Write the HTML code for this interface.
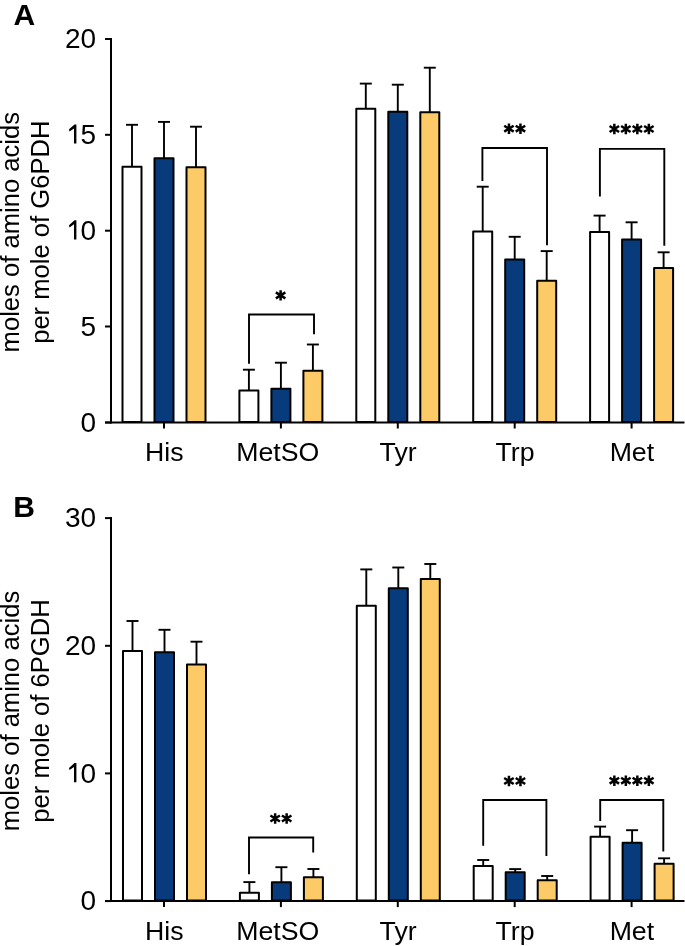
<!DOCTYPE html>
<html><head><meta charset="utf-8"><style>
html,body{margin:0;padding:0;background:#fff;}
#w{will-change:transform;}
svg{display:block;}
text{font-family:"Liberation Sans",sans-serif;fill:#000;}
</style></head><body>
<div id="w"><svg width="685" height="946" viewBox="0 0 685 946">

<text x="13.5" y="24.8" font-size="30" font-weight="bold">A</text>
<text transform="translate(19.4,232.2) rotate(-90)" text-anchor="middle" font-size="25.6">moles of amino acids</text>
<text transform="translate(49.0,232.2) rotate(-90)" text-anchor="middle" font-size="25.6">per mole of G6PDH</text>
<text x="96.1" y="48.2" text-anchor="end" font-size="28">20</text>
<line x1="105" y1="39.0" x2="111" y2="39.0" stroke="#000" stroke-width="2.0"/>
<path d="M76.40,124.40 L76.40,143.60 L74.00,143.60 L74.00,128.40 L69.50,131.50 L69.00,129.30 L74.50,124.40Z" fill="#000"/>
<text x="96.1" y="144.0" text-anchor="end" font-size="28">5</text>
<line x1="105" y1="134.8" x2="111" y2="134.8" stroke="#000" stroke-width="2.0"/>
<path d="M76.40,220.30 L76.40,239.50 L74.00,239.50 L74.00,224.30 L69.50,227.40 L69.00,225.20 L74.50,220.30Z" fill="#000"/>
<text x="96.1" y="239.9" text-anchor="end" font-size="28">0</text>
<line x1="105" y1="230.7" x2="111" y2="230.7" stroke="#000" stroke-width="2.0"/>
<text x="96.1" y="335.7" text-anchor="end" font-size="28">5</text>
<line x1="105" y1="326.5" x2="111" y2="326.5" stroke="#000" stroke-width="2.0"/>
<text x="96.1" y="431.7" text-anchor="end" font-size="28">0</text>
<line x1="105" y1="422.5" x2="111" y2="422.5" stroke="#000" stroke-width="2.0"/>
<line x1="132.0" y1="167.3" x2="132.0" y2="124.8" stroke="#000" stroke-width="1.9"/>
<line x1="126.0" y1="124.8" x2="138.0" y2="124.8" stroke="#000" stroke-width="1.9"/>
<rect x="122.5" y="166.8" width="19" height="255.10" fill="#ffffff" stroke="#000" stroke-width="2.0" stroke-linejoin="round"/>
<line x1="164.0" y1="158.7" x2="164.0" y2="121.9" stroke="#000" stroke-width="1.9"/>
<line x1="158.0" y1="121.9" x2="170.0" y2="121.9" stroke="#000" stroke-width="1.9"/>
<rect x="154.5" y="158.2" width="19" height="263.70" fill="#083b7b" stroke="#000" stroke-width="2.0" stroke-linejoin="round"/>
<line x1="196.0" y1="167.7" x2="196.0" y2="126.7" stroke="#000" stroke-width="1.9"/>
<line x1="190.0" y1="126.7" x2="202.0" y2="126.7" stroke="#000" stroke-width="1.9"/>
<rect x="186.5" y="167.2" width="19" height="254.70" fill="#fccb68" stroke="#000" stroke-width="2.0" stroke-linejoin="round"/>
<line x1="164.0" y1="422.5" x2="164.0" y2="428.5" stroke="#000" stroke-width="2.0"/>
<text x="164.3" y="461.4" text-anchor="middle" font-size="26.7">His</text>
<line x1="248.9" y1="391.0" x2="248.9" y2="369.7" stroke="#000" stroke-width="1.9"/>
<line x1="242.9" y1="369.7" x2="254.9" y2="369.7" stroke="#000" stroke-width="1.9"/>
<rect x="239.4" y="390.5" width="19" height="31.40" fill="#ffffff" stroke="#000" stroke-width="2.0" stroke-linejoin="round"/>
<line x1="280.9" y1="389.3" x2="280.9" y2="362.7" stroke="#000" stroke-width="1.9"/>
<line x1="274.9" y1="362.7" x2="286.9" y2="362.7" stroke="#000" stroke-width="1.9"/>
<rect x="271.4" y="388.8" width="19" height="33.10" fill="#083b7b" stroke="#000" stroke-width="2.0" stroke-linejoin="round"/>
<line x1="312.9" y1="371.2" x2="312.9" y2="344.5" stroke="#000" stroke-width="1.9"/>
<line x1="306.9" y1="344.5" x2="318.9" y2="344.5" stroke="#000" stroke-width="1.9"/>
<rect x="303.4" y="370.7" width="19" height="51.20" fill="#fccb68" stroke="#000" stroke-width="2.0" stroke-linejoin="round"/>
<line x1="280.9" y1="422.5" x2="280.9" y2="428.5" stroke="#000" stroke-width="2.0"/>
<text x="277.8" y="461.4" text-anchor="middle" font-size="26.7">MetSO</text>
<line x1="365.8" y1="109.3" x2="365.8" y2="83.6" stroke="#000" stroke-width="1.9"/>
<line x1="359.8" y1="83.6" x2="371.8" y2="83.6" stroke="#000" stroke-width="1.9"/>
<rect x="356.3" y="108.8" width="19" height="313.10" fill="#ffffff" stroke="#000" stroke-width="2.0" stroke-linejoin="round"/>
<line x1="397.8" y1="112.3" x2="397.8" y2="84.7" stroke="#000" stroke-width="1.9"/>
<line x1="391.8" y1="84.7" x2="403.8" y2="84.7" stroke="#000" stroke-width="1.9"/>
<rect x="388.3" y="111.8" width="19" height="310.10" fill="#083b7b" stroke="#000" stroke-width="2.0" stroke-linejoin="round"/>
<line x1="429.8" y1="112.8" x2="429.8" y2="67.7" stroke="#000" stroke-width="1.9"/>
<line x1="423.8" y1="67.7" x2="435.8" y2="67.7" stroke="#000" stroke-width="1.9"/>
<rect x="420.3" y="112.3" width="19" height="309.60" fill="#fccb68" stroke="#000" stroke-width="2.0" stroke-linejoin="round"/>
<line x1="397.8" y1="422.5" x2="397.8" y2="428.5" stroke="#000" stroke-width="2.0"/>
<text x="398.1" y="461.4" text-anchor="middle" font-size="26.7">Tyr</text>
<line x1="482.7" y1="231.9" x2="482.7" y2="186.7" stroke="#000" stroke-width="1.9"/>
<line x1="476.7" y1="186.7" x2="488.7" y2="186.7" stroke="#000" stroke-width="1.9"/>
<rect x="473.2" y="231.4" width="19" height="190.50" fill="#ffffff" stroke="#000" stroke-width="2.0" stroke-linejoin="round"/>
<line x1="514.7" y1="260.0" x2="514.7" y2="236.8" stroke="#000" stroke-width="1.9"/>
<line x1="508.7" y1="236.8" x2="520.7" y2="236.8" stroke="#000" stroke-width="1.9"/>
<rect x="505.2" y="259.5" width="19" height="162.40" fill="#083b7b" stroke="#000" stroke-width="2.0" stroke-linejoin="round"/>
<line x1="546.7" y1="281.3" x2="546.7" y2="251.1" stroke="#000" stroke-width="1.9"/>
<line x1="540.7" y1="251.1" x2="552.7" y2="251.1" stroke="#000" stroke-width="1.9"/>
<rect x="537.2" y="280.8" width="19" height="141.10" fill="#fccb68" stroke="#000" stroke-width="2.0" stroke-linejoin="round"/>
<line x1="514.7" y1="422.5" x2="514.7" y2="428.5" stroke="#000" stroke-width="2.0"/>
<text x="515.0" y="461.4" text-anchor="middle" font-size="26.7">Trp</text>
<line x1="599.6" y1="232.4" x2="599.6" y2="215.6" stroke="#000" stroke-width="1.9"/>
<line x1="593.6" y1="215.6" x2="605.6" y2="215.6" stroke="#000" stroke-width="1.9"/>
<rect x="590.1" y="231.9" width="19" height="190.00" fill="#ffffff" stroke="#000" stroke-width="2.0" stroke-linejoin="round"/>
<line x1="631.6" y1="240.0" x2="631.6" y2="222.3" stroke="#000" stroke-width="1.9"/>
<line x1="625.6" y1="222.3" x2="637.6" y2="222.3" stroke="#000" stroke-width="1.9"/>
<rect x="622.1" y="239.5" width="19" height="182.40" fill="#083b7b" stroke="#000" stroke-width="2.0" stroke-linejoin="round"/>
<line x1="663.6" y1="268.5" x2="663.6" y2="252.3" stroke="#000" stroke-width="1.9"/>
<line x1="657.6" y1="252.3" x2="669.6" y2="252.3" stroke="#000" stroke-width="1.9"/>
<rect x="654.1" y="268.0" width="19" height="153.90" fill="#fccb68" stroke="#000" stroke-width="2.0" stroke-linejoin="round"/>
<line x1="631.6" y1="422.5" x2="631.6" y2="428.5" stroke="#000" stroke-width="2.0"/>
<text x="631.9" y="461.4" text-anchor="middle" font-size="26.7">Met</text>
<line x1="111" y1="38.0" x2="111" y2="423.5" stroke="#000" stroke-width="2.0"/>
<line x1="105" y1="422.5" x2="684.5" y2="422.5" stroke="#000" stroke-width="2.0"/>
<polyline points="249.0,363.7 249.0,314.5 314.0,314.5 314.0,334.3" fill="none" stroke="#000" stroke-width="1.9"/>
<path d="M280.60,290.20V300.60M275.85,292.43L285.35,298.37M275.85,298.37L285.35,292.43" stroke="#000" stroke-width="2.5" fill="none"/>
<polyline points="482.4,181 482.4,148.0 547.0,148.0 547.0,245.2" fill="none" stroke="#000" stroke-width="1.9"/>
<path d="M508.95,123.50V133.90M504.20,125.73L513.70,131.67M504.20,131.67L513.70,125.73" stroke="#000" stroke-width="2.5" fill="none"/>
<path d="M520.45,123.50V133.90M515.70,125.73L525.20,131.67M515.70,131.67L525.20,125.73" stroke="#000" stroke-width="2.5" fill="none"/>
<polyline points="599.9,196.6 599.9,148.9 664.3,148.9 664.3,245.7" fill="none" stroke="#000" stroke-width="1.9"/>
<path d="M614.35,123.80V134.20M609.60,126.03L619.10,131.97M609.60,131.97L619.10,126.03" stroke="#000" stroke-width="2.5" fill="none"/>
<path d="M625.85,123.80V134.20M621.10,126.03L630.60,131.97M621.10,131.97L630.60,126.03" stroke="#000" stroke-width="2.5" fill="none"/>
<path d="M637.35,123.80V134.20M632.60,126.03L642.10,131.97M632.60,131.97L642.10,126.03" stroke="#000" stroke-width="2.5" fill="none"/>
<path d="M648.85,123.80V134.20M644.10,126.03L653.60,131.97M644.10,131.97L653.60,126.03" stroke="#000" stroke-width="2.5" fill="none"/>
<text x="13.2" y="517" font-size="30" font-weight="bold">B</text>
<text transform="translate(19.4,711) rotate(-90)" text-anchor="middle" font-size="25.6">moles of amino acids</text>
<text transform="translate(49.0,711) rotate(-90)" text-anchor="middle" font-size="25.6">per mole of 6PGDH</text>
<text x="96.1" y="527.3" text-anchor="end" font-size="28">30</text>
<line x1="105" y1="518.1" x2="111" y2="518.1" stroke="#000" stroke-width="2.0"/>
<text x="96.1" y="655.0" text-anchor="end" font-size="28">20</text>
<line x1="105" y1="645.8" x2="111" y2="645.8" stroke="#000" stroke-width="2.0"/>
<path d="M76.40,763.00 L76.40,782.20 L74.00,782.20 L74.00,767.00 L69.50,770.10 L69.00,767.90 L74.50,763.00Z" fill="#000"/>
<text x="96.1" y="782.6" text-anchor="end" font-size="28">0</text>
<line x1="105" y1="773.4" x2="111" y2="773.4" stroke="#000" stroke-width="2.0"/>
<text x="96.1" y="910.3" text-anchor="end" font-size="28">0</text>
<line x1="105" y1="901.1" x2="111" y2="901.1" stroke="#000" stroke-width="2.0"/>
<line x1="132.5" y1="651.5" x2="132.5" y2="621.0" stroke="#000" stroke-width="1.9"/>
<line x1="126.5" y1="621.0" x2="138.5" y2="621.0" stroke="#000" stroke-width="1.9"/>
<rect x="123.0" y="651.0" width="19" height="249.50" fill="#ffffff" stroke="#000" stroke-width="2.0" stroke-linejoin="round"/>
<line x1="164.5" y1="652.7" x2="164.5" y2="629.8" stroke="#000" stroke-width="1.9"/>
<line x1="158.5" y1="629.8" x2="170.5" y2="629.8" stroke="#000" stroke-width="1.9"/>
<rect x="155.0" y="652.2" width="19" height="248.30" fill="#083b7b" stroke="#000" stroke-width="2.0" stroke-linejoin="round"/>
<line x1="196.5" y1="664.9" x2="196.5" y2="641.7" stroke="#000" stroke-width="1.9"/>
<line x1="190.5" y1="641.7" x2="202.5" y2="641.7" stroke="#000" stroke-width="1.9"/>
<rect x="187.0" y="664.4" width="19" height="236.10" fill="#fccb68" stroke="#000" stroke-width="2.0" stroke-linejoin="round"/>
<line x1="164.0" y1="901.1" x2="164.0" y2="907.1" stroke="#000" stroke-width="2.0"/>
<text x="164.3" y="940.2" text-anchor="middle" font-size="26.7">His</text>
<line x1="249.4" y1="893.3" x2="249.4" y2="882.1" stroke="#000" stroke-width="1.9"/>
<line x1="243.4" y1="882.1" x2="255.4" y2="882.1" stroke="#000" stroke-width="1.9"/>
<rect x="239.9" y="892.8" width="19" height="7.70" fill="#ffffff" stroke="#000" stroke-width="2.0" stroke-linejoin="round"/>
<line x1="281.4" y1="882.8" x2="281.4" y2="867.2" stroke="#000" stroke-width="1.9"/>
<line x1="275.4" y1="867.2" x2="287.4" y2="867.2" stroke="#000" stroke-width="1.9"/>
<rect x="271.9" y="882.3" width="19" height="18.20" fill="#083b7b" stroke="#000" stroke-width="2.0" stroke-linejoin="round"/>
<line x1="313.4" y1="877.7" x2="313.4" y2="869.0" stroke="#000" stroke-width="1.9"/>
<line x1="307.4" y1="869.0" x2="319.4" y2="869.0" stroke="#000" stroke-width="1.9"/>
<rect x="303.9" y="877.2" width="19" height="23.30" fill="#fccb68" stroke="#000" stroke-width="2.0" stroke-linejoin="round"/>
<line x1="280.9" y1="901.1" x2="280.9" y2="907.1" stroke="#000" stroke-width="2.0"/>
<text x="277.8" y="940.2" text-anchor="middle" font-size="26.7">MetSO</text>
<line x1="366.3" y1="606.2" x2="366.3" y2="569.4" stroke="#000" stroke-width="1.9"/>
<line x1="360.3" y1="569.4" x2="372.3" y2="569.4" stroke="#000" stroke-width="1.9"/>
<rect x="356.8" y="605.7" width="19" height="294.80" fill="#ffffff" stroke="#000" stroke-width="2.0" stroke-linejoin="round"/>
<line x1="398.3" y1="588.7" x2="398.3" y2="567.5" stroke="#000" stroke-width="1.9"/>
<line x1="392.3" y1="567.5" x2="404.3" y2="567.5" stroke="#000" stroke-width="1.9"/>
<rect x="388.8" y="588.2" width="19" height="312.30" fill="#083b7b" stroke="#000" stroke-width="2.0" stroke-linejoin="round"/>
<line x1="430.3" y1="579.6" x2="430.3" y2="564.0" stroke="#000" stroke-width="1.9"/>
<line x1="424.3" y1="564.0" x2="436.3" y2="564.0" stroke="#000" stroke-width="1.9"/>
<rect x="420.8" y="579.1" width="19" height="321.40" fill="#fccb68" stroke="#000" stroke-width="2.0" stroke-linejoin="round"/>
<line x1="397.8" y1="901.1" x2="397.8" y2="907.1" stroke="#000" stroke-width="2.0"/>
<text x="398.1" y="940.2" text-anchor="middle" font-size="26.7">Tyr</text>
<line x1="483.2" y1="866.5" x2="483.2" y2="860.0" stroke="#000" stroke-width="1.9"/>
<line x1="477.2" y1="860.0" x2="489.2" y2="860.0" stroke="#000" stroke-width="1.9"/>
<rect x="473.7" y="866.0" width="19" height="34.50" fill="#ffffff" stroke="#000" stroke-width="2.0" stroke-linejoin="round"/>
<line x1="515.2" y1="872.8" x2="515.2" y2="869.1" stroke="#000" stroke-width="1.9"/>
<line x1="509.2" y1="869.1" x2="521.2" y2="869.1" stroke="#000" stroke-width="1.9"/>
<rect x="505.7" y="872.3" width="19" height="28.20" fill="#083b7b" stroke="#000" stroke-width="2.0" stroke-linejoin="round"/>
<line x1="547.2" y1="880.8" x2="547.2" y2="876.0" stroke="#000" stroke-width="1.9"/>
<line x1="541.2" y1="876.0" x2="553.2" y2="876.0" stroke="#000" stroke-width="1.9"/>
<rect x="537.7" y="880.3" width="19" height="20.20" fill="#fccb68" stroke="#000" stroke-width="2.0" stroke-linejoin="round"/>
<line x1="514.7" y1="901.1" x2="514.7" y2="907.1" stroke="#000" stroke-width="2.0"/>
<text x="515.0" y="940.2" text-anchor="middle" font-size="26.7">Trp</text>
<line x1="600.1" y1="837.3" x2="600.1" y2="826.6" stroke="#000" stroke-width="1.9"/>
<line x1="594.1" y1="826.6" x2="606.1" y2="826.6" stroke="#000" stroke-width="1.9"/>
<rect x="590.6" y="836.8" width="19" height="63.70" fill="#ffffff" stroke="#000" stroke-width="2.0" stroke-linejoin="round"/>
<line x1="632.1" y1="843.2" x2="632.1" y2="830.2" stroke="#000" stroke-width="1.9"/>
<line x1="626.1" y1="830.2" x2="638.1" y2="830.2" stroke="#000" stroke-width="1.9"/>
<rect x="622.6" y="842.7" width="19" height="57.80" fill="#083b7b" stroke="#000" stroke-width="2.0" stroke-linejoin="round"/>
<line x1="664.1" y1="864.3" x2="664.1" y2="858.3" stroke="#000" stroke-width="1.9"/>
<line x1="658.1" y1="858.3" x2="670.1" y2="858.3" stroke="#000" stroke-width="1.9"/>
<rect x="654.6" y="863.8" width="19" height="36.70" fill="#fccb68" stroke="#000" stroke-width="2.0" stroke-linejoin="round"/>
<line x1="631.6" y1="901.1" x2="631.6" y2="907.1" stroke="#000" stroke-width="2.0"/>
<text x="631.9" y="940.2" text-anchor="middle" font-size="26.7">Met</text>
<line x1="111" y1="517.1" x2="111" y2="902.1" stroke="#000" stroke-width="2.0"/>
<line x1="105" y1="901.1" x2="684.5" y2="901.1" stroke="#000" stroke-width="2.0"/>
<polyline points="249.0,874.2 249.0,837.5 313.2,837.5 313.2,852.4" fill="none" stroke="#000" stroke-width="1.9"/>
<path d="M275.15,813.30V823.70M270.40,815.53L279.90,821.47M270.40,821.47L279.90,815.53" stroke="#000" stroke-width="2.5" fill="none"/>
<path d="M286.65,813.30V823.70M281.90,815.53L291.40,821.47M281.90,821.47L291.40,815.53" stroke="#000" stroke-width="2.5" fill="none"/>
<polyline points="483.2,845.8 483.2,800.0 546.4,800.0 546.4,856" fill="none" stroke="#000" stroke-width="1.9"/>
<path d="M508.95,775.80V786.20M504.20,778.03L513.70,783.97M504.20,783.97L513.70,778.03" stroke="#000" stroke-width="2.5" fill="none"/>
<path d="M520.45,775.80V786.20M515.70,778.03L525.20,783.97M515.70,783.97L525.20,778.03" stroke="#000" stroke-width="2.5" fill="none"/>
<polyline points="600.2,821 600.2,800.0 663.3,800.0 663.3,851.5" fill="none" stroke="#000" stroke-width="1.9"/>
<path d="M614.35,775.50V785.90M609.60,777.73L619.10,783.67M609.60,783.67L619.10,777.73" stroke="#000" stroke-width="2.5" fill="none"/>
<path d="M625.85,775.50V785.90M621.10,777.73L630.60,783.67M621.10,783.67L630.60,777.73" stroke="#000" stroke-width="2.5" fill="none"/>
<path d="M637.35,775.50V785.90M632.60,777.73L642.10,783.67M632.60,783.67L642.10,777.73" stroke="#000" stroke-width="2.5" fill="none"/>
<path d="M648.85,775.50V785.90M644.10,777.73L653.60,783.67M644.10,783.67L653.60,777.73" stroke="#000" stroke-width="2.5" fill="none"/>
</svg></div>
</body></html>
